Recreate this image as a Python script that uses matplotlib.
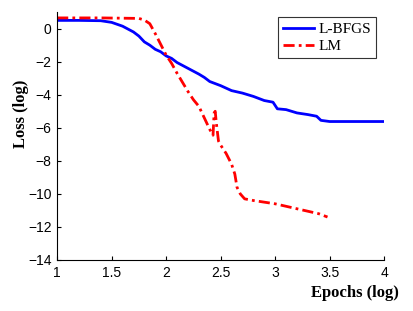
import numpy as np
import matplotlib.pyplot as plt

# L-BFGS loss curve (log-log)
lbfgs_x = [1.0, 1.2, 1.4, 1.5, 1.6, 1.7, 1.75, 1.8, 1.85, 1.9, 1.95, 2.0, 2.05, 2.1, 2.2,
           2.3, 2.35, 2.4, 2.5, 2.6, 2.7, 2.8, 2.9, 2.98, 3.02, 3.1, 3.2, 3.3, 3.38,
           3.42, 3.5, 3.7, 4.0]
lbfgs_y = [0.5, 0.5, 0.48, 0.38, 0.15, -0.2, -0.45, -0.8, -1.0, -1.25, -1.4, -1.65, -1.8,
           -2.05, -2.4, -2.75, -2.95, -3.2, -3.45, -3.75, -3.9, -4.1, -4.35, -4.45, -4.85,
           -4.9, -5.1, -5.2, -5.3, -5.55, -5.62, -5.62, -5.62]

# LM loss curve
lm_x = [1.0, 1.4, 1.75, 1.8, 1.85, 1.9, 2.0, 2.05, 2.1, 2.2, 2.25, 2.3, 2.35, 2.4, 2.43,
        2.44, 2.45, 2.46, 2.48, 2.5, 2.55, 2.6, 2.63, 2.65, 2.68, 2.72, 2.8, 3.0, 3.2,
        3.4, 3.48]
lm_y = [0.65, 0.65, 0.62, 0.52, 0.3, -0.3, -1.6, -2.1, -2.7, -3.8, -4.3, -4.7, -5.4, -6.1,
        -6.45, -5.1, -5.0, -5.7, -6.8, -7.05, -7.55, -8.2, -8.8, -9.6, -10.0, -10.3,
        -10.4, -10.6, -10.9, -11.2, -11.4]

fig = plt.figure(figsize=(4.14, 3.11), dpi=100)
ax = fig.add_axes([0.138, 0.164, 0.79, 0.797])

ax.plot(lbfgs_x, lbfgs_y, color='#0000ff', linewidth=2, label='L-BFGS')
ax.plot(lm_x, lm_y, color='#ff0000', linewidth=2, linestyle=(0, (4, 1.5, 1, 1.5)),
        label='LM')

ax.set_xlim(1, 4)
ax.set_ylim(-14, 1)
ax.set_xticks([1, 1.5, 2, 2.5, 3, 3.5, 4])
ax.set_xticklabels(['1', '1.5', '2', '2.5', '3', '3.5', '4'])
ax.set_yticks(np.arange(-14, 1, 2))
ax.tick_params(direction='in', length=3, labelsize=10, pad=4)
for lbl in ax.get_xticklabels() + ax.get_yticklabels():
    lbl.set_family('Liberation Sans')

ax.spines['top'].set_visible(False)
ax.spines['right'].set_visible(False)

ax.set_xlabel('Epochs (log)', family='Liberation Serif', fontweight='bold', fontsize=12)
ax.xaxis.set_label_coords(1.045, -0.1)
ax.xaxis.label.set_ha('right')
ax.set_ylabel('Loss (log)', family='Liberation Serif', fontweight='bold', fontsize=12)
ax.yaxis.set_label_coords(-0.085, 0.59)

leg = ax.legend(loc='upper right', bbox_to_anchor=(0.976, 0.98), fancybox=False,
                framealpha=1, edgecolor='#333333', handlelength=2.0,
                prop={'family': 'Liberation Serif', 'size': 11},
                borderpad=0.35, labelspacing=0.2, handletextpad=0.3, borderaxespad=0)
leg.get_frame().set_linewidth(0.8)

plt.savefig('out.png', dpi=100)
